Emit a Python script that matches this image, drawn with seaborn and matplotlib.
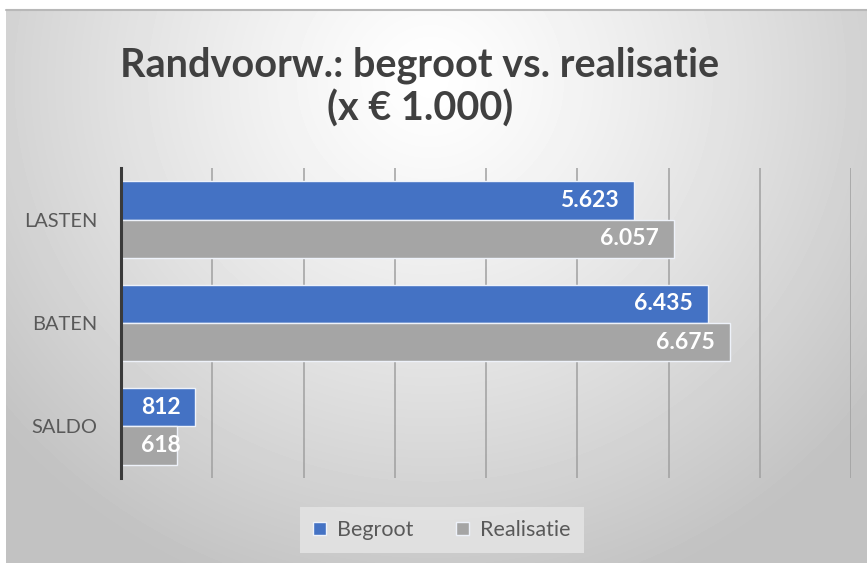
import numpy as np
import pandas as pd
import matplotlib
matplotlib.use("Agg")
import matplotlib.pyplot as plt
import seaborn as sns

categories = ["LASTEN", "BATEN", "SALDO"]
series = ["Begroot", "Realisatie"]
begroot = [5623, 6435, 812]
realisatie = [6057, 6675, 618]
title_line1 = "Randvoorw.: begroot vs. realisatie"
title_line2 = "(x € 1.000)"

df = pd.DataFrame({
    "cat": categories * 2,
    "series": [series[0]] * 3 + [series[1]] * 3,
    "value": begroot + realisatie,
})

sns.set_theme(style="white")
plt.rcParams["font.family"] = ["Lato", "DejaVu Sans"]

W, H = 867, 563
fig = plt.figure(figsize=(W / 100, H / 100), dpi=100)
fig.patch.set_facecolor("white")

# background gradient panel
bg = fig.add_axes([6 / W, 0, 1 - 6 / W, 1 - 10 / H])
bg.set_zorder(-10)
yy, xx = np.mgrid[10:H, 6:W]
r = np.sqrt(((xx - 430) / 560.0) ** 2 + ((yy - 80) / 540.0) ** 2)
g = 1.0 - 0.24 * np.clip(r, 0, 1) ** 1.2
bg.imshow(g, cmap="gray", vmin=0, vmax=1, aspect="auto", interpolation="bilinear")
bg.axis("off")
fig.add_artist(plt.Line2D([6 / W, 1], [1 - 10 / H, 1 - 10 / H], color="#b8b8b8", lw=1.5))

ax = fig.add_axes([121 / W, 1 - 478 / H, (851 - 121) / W, (478 - 168) / H])
ax.set_facecolor("none")

blue = "#4472C4"
gray = "#A5A5A5"
sns.barplot(data=df, y="cat", x="value", hue="series", orient="h",
            palette=[blue, gray], saturation=1, width=0.74, edgecolor="#eef2fa",
            linewidth=1.0, ax=ax, legend=True, zorder=3)

ax.set_xlim(0, 8000)
ax.set_ylim(2.5, -0.5)
ax.set_xticks(np.arange(0, 8001, 1000))
ax.tick_params(axis="x", length=0, labelbottom=False)
ax.grid(axis="x", color="#a0a0a0", lw=1.1, zorder=0)
ax.grid(axis="y", visible=False)
ax.set_axisbelow(True)
for s in ["top", "right", "bottom"]:
    ax.spines[s].set_visible(False)
ax.spines["left"].set_color("#3a3a3a")
ax.spines["left"].set_linewidth(2.2)
ax.spines["left"].set_zorder(5)
ax.set_xlabel("")
ax.set_ylabel("")
ax.tick_params(axis="y", length=0, pad=17, labelsize=14.4, labelcolor="#595959")

fmt = lambda v: f"{v:,.0f}".replace(",", ".")
all_anns = []
for cont in ax.containers:
    anns = ax.bar_label(cont, labels=[fmt(b.get_width()) for b in cont],
                        padding=-11, color="white", fontsize=16.5, fontweight="bold")
    for a in anns:
        a.set_ha("right")
    all_anns.extend(anns)

# keep labels from running into the axis (Excel-like behaviour)
fig.canvas.draw()
renderer = fig.canvas.get_renderer()
axis_px = ax.transData.transform((0, 0))[0]
min_left = axis_px + 20
for a in all_anns:
    bb = a.get_window_extent(renderer)
    if bb.x0 < min_left:
        shift_pt = (min_left - bb.x0) * 72 / fig.dpi
        x0, y0 = a.xyann
        a.xyann = (x0 + shift_pt, y0)

handles, labels = ax.get_legend_handles_labels()
if ax.legend_:
    ax.legend_.remove()
leg = fig.legend(handles, labels, loc="center", bbox_to_anchor=(442 / W, 1 - 530 / H),
                 ncol=2, frameon=True, fancybox=False, fontsize=15.5,
                 handlelength=0.6, handleheight=0.6, handletextpad=0.5,
                 columnspacing=2.0, borderpad=0.6, borderaxespad=0)
leg.get_frame().set_facecolor("#e3e3e3")
leg.get_frame().set_edgecolor("none")
leg.get_frame().set_alpha(0.9)
for t in leg.get_texts():
    t.set_color("#595959")

fig.text(420 / W, 1 - 76 / H, title_line1, ha="center", va="baseline",
         fontsize=28.5, fontweight="bold", color="#404040")
fig.text(420 / W, 1 - 121 / H, title_line2, ha="center", va="baseline",
         fontsize=28.5, fontweight="bold", color="#404040")

fig.savefig("out.png", dpi=100)
